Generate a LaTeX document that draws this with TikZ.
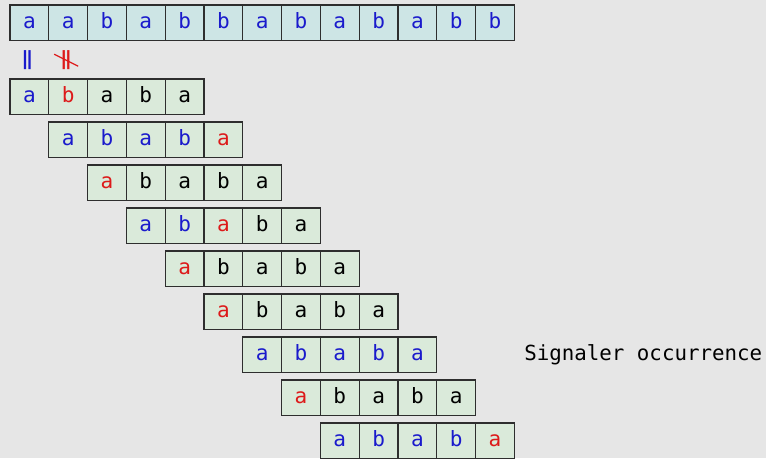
\documentclass[tikz,border=0pt]{standalone}
\usepackage{fontspec}
\usepackage{graphicx}
\setmainfont{DejaVu Sans}
\setmonofont{DejaVu Sans Mono}
\usetikzlibrary{positioning, calc}
\definecolor{bggray}{HTML}{E6E6E6}
\definecolor{txtfill}{HTML}{CDE5E5}
\definecolor{patfill}{HTML}{DAEADA}
\definecolor{hitblue}{HTML}{1A1ACC}
\definecolor{missred}{HTML}{DD1A1A}
\definecolor{edgegray}{HTML}{2E2E2E}

\begin{document}
\begin{tikzpicture}[
  x=0.75pt, y=-0.75pt,
  cell/.style={rectangle, draw=edgegray, line width=0.8pt, minimum width=29.1pt, minimum height=26.6pt, inner sep=0pt, outer sep=0pt, text height=8.4pt, text depth=0pt, anchor=north west, font=\ttfamily\fontsize{15.8}{19}\selectfont},
  txtcell/.style={cell, fill=txtfill, text=hitblue},
  patcell/.style={cell, fill=patfill},
  rel/.style={font=\fontsize{14.5}{17}\selectfont, inner sep=0pt},
  note/.style={font=\ttfamily\fontsize{15.6}{19}\selectfont, text=black, inner sep=0pt}
]

\fill[bggray] (0,0) rectangle (766,458);
\useasboundingbox (0,0) rectangle (766,458);

% texte
\foreach \ch [count=\i] in {a,a,b,a,b,b,a,b,a,b,a,b,b}
  \node[txtcell] (t\i) at ({10+(\i-1)*38.8},5) {\ch};

% motif, une ligne par decalage
\foreach \r/\spec in {0/{a/hitblue,b/missred,a/black,b/black,a/black},
                      1/{a/hitblue,b/hitblue,a/hitblue,b/hitblue,a/missred},
                      2/{a/missred,b/black,a/black,b/black,a/black},
                      3/{a/hitblue,b/hitblue,a/missred,b/black,a/black},
                      4/{a/missred,b/black,a/black,b/black,a/black},
                      5/{a/missred,b/black,a/black,b/black,a/black},
                      6/{a/hitblue,b/hitblue,a/hitblue,b/hitblue,a/hitblue},
                      7/{a/missred,b/black,a/black,b/black,a/black},
                      8/{a/hitblue,b/hitblue,a/hitblue,b/hitblue,a/missred}}
  \foreach \ch/\col [count=\j] in \spec
    \node[patcell, text=\col] (p\r-\j) at ({10+(\r+\j-1)*38.8},{79+\r*43}) {\ch};

% comparaisons de la premiere ligne
\node[rel, text=hitblue, xshift=-1.5pt] (eq) at ($(t1.south)!0.5!(p0-1.north)$) {\scalebox{1.5}[1]{∥}};
\node[rel, text=missred, xshift=-1.5pt] (neq) at ($(t2.south)!0.5!(p0-2.north)$) {\scalebox{1.5}[1]{∥}};
\draw[missred, line width=0.9pt] ($(neq.center)+(-12,-5.5)$) -- ($(neq.center)+(12,6.5)$);

\node[note, right=65.4pt of p6-5] (occ) {Signaler occurrence};

\end{tikzpicture}
\end{document}
